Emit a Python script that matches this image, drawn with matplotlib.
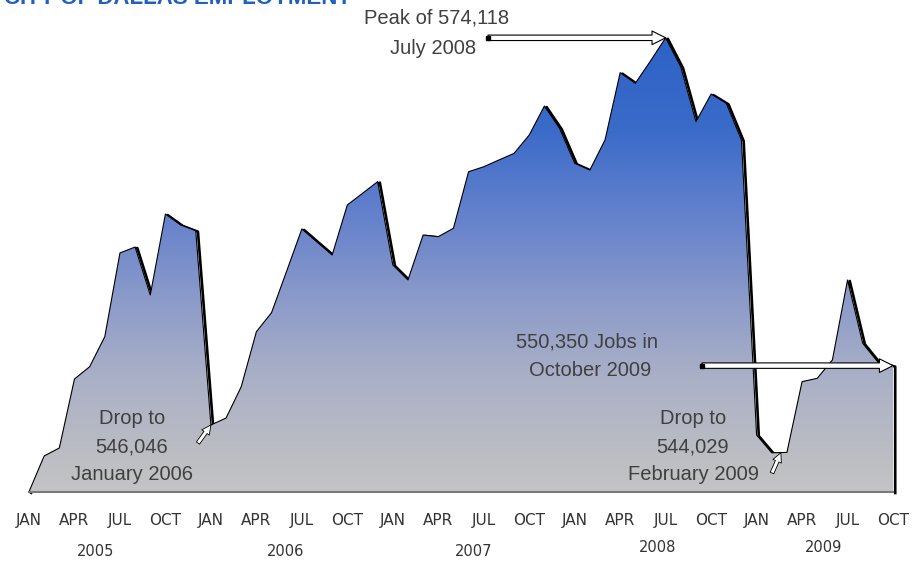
import numpy as np
import matplotlib
matplotlib.use("Agg")
import matplotlib.pyplot as plt
import matplotlib.transforms as mtransforms
from matplotlib.colors import LinearSegmentedColormap

# monthly employment, Jan 2005 - Oct 2009
jobs_2005 = [541210, 543800, 544380, 549380, 550270, 552450,
             558520, 558950, 555470, 561340, 560550, 560130]
jobs_2006 = [546046, 546550, 548820, 552810, 554190, 557210,
             560260, 559310, 558370, 562000, 562840, 563690]
jobs_2007 = [557650, 556560, 559820, 559700, 560310, 564410,
             564770, 565260, 565740, 567070, 569170, 567560]
jobs_2008 = [565020, 564530, 566710, 571590, 570820, 572440,
             574118, 572000, 568040, 570040, 569370, 566710]
jobs_2009 = [545320, 544029, 544060, 549190, 549430, 550760,
             556560, 551970, 550610, 550350]

month_labels = ["JAN", "APR", "JUL", "OCT"]
years = ["2005", "2006", "2007", "2008", "2009"]

jobs = np.array(jobs_2005 + jobs_2006 + jobs_2007 + jobs_2008 + jobs_2009)
months = np.arange(len(jobs))

W, H = 917, 561


def px(x, y):
    # reference pixel -> figure fraction
    return x / W, 1 - y / H


def month_at(x):
    # reference pixel column -> month index
    return (x - 29) / 15.158


fig = plt.figure(figsize=(W / 100, H / 100), dpi=100)
ax = fig.add_axes([20 / W, (H - 492) / H, 885 / W, 472 / H])
ymin, ymax = 541188, 575409
ax.set_xlim(-0.594, 57.79)
ax.set_ylim(ymin, ymax)

# shadow edge (offset down-right), then gradient fill, then thin outline
xs = np.append(months, months[-1])
ys = np.append(jobs, ymin)
shadow = mtransforms.offset_copy(ax.transData, fig=fig, x=2.2, y=-1.0, units="dots")
ax.plot(xs, ys, color="black", lw=1.9, transform=shadow, zorder=1, clip_on=False)

poly = ax.fill_between(months, jobs, ymin, facecolor="none", edgecolor="none", zorder=2)
grad_cmap = LinearSegmentedColormap.from_list("dallas", [
    (0.00, "#c4c4c6"), (0.07, "#bdbec3"), (0.24, "#aab0c6"),
    (0.41, "#8b9ac9"), (0.58, "#6682cc"), (0.77, "#3a6bc9"), (1.00, "#2a60c6")])
grad = np.linspace(0, 1, 256).reshape(-1, 1)
im = ax.imshow(grad, cmap=grad_cmap, aspect="auto", origin="lower",
               extent=[-0.594, 57.79, ymin, ymax], zorder=2)
im.set_clip_path(poly.get_paths()[0], transform=ax.transData)
ax.plot(months, jobs, color="black", lw=0.8, zorder=3)
ax.plot([0, months[-1]], [ymin, ymin], color="#7a7a7a", lw=1.5, zorder=3, clip_on=False)

for side in ax.spines.values():
    side.set_visible(False)
ax.set_yticks([])
ax.set_xticks(months[::3])
ax.set_xticklabels([month_labels[i % 4] for i in range(len(months[::3]))],
                   family=["Liberation Sans Narrow", "DejaVu Sans"], fontsize=11, color="#333333")
ax.tick_params(axis="x", length=0, pad=15)

year_pos = [(96, 552), (286, 552), (474, 552), (658, 548), (824, 548)]
for yr, (x, y) in zip(years, year_pos):
    fig.text(*px(x, y), yr, ha="center", va="center", fontsize=10.5, color="#333333",
             family=["Liberation Sans Narrow", "DejaVu Sans"])

# title, mostly cut off at the top edge
fig.text(0.004, 1 - 4 / H, "CITY OF DALLAS EMPLOYMENT", ha="left", va="baseline",
         fontsize=16, fontweight="bold", color="#2160c0", family="Liberation Sans")

txt = dict(ha="center", va="center", fontsize=14.5, color="#404040", family="Liberation Sans")
for s, x, y in [("Peak of 574,118", 437, 18), ("July 2008", 433, 48),
                ("550,350 Jobs in", 587, 342), ("October 2009", 590, 370),
                ("Drop to", 132, 418), ("546,046", 132, 447), ("January 2006", 132, 475),
                ("Drop to", 693, 418), ("544,029", 693, 447), ("February 2009", 693, 475)]:
    fig.text(*px(x, y), s, **txt)

big_arrow = dict(arrowstyle="simple,head_length=0.7,head_width=0.7,tail_width=0.28",
                 fc="white", ec="black", lw=0.8, shrinkA=0, shrinkB=0, mutation_scale=14)
small_arrow = dict(arrowstyle="simple,head_length=0.6,head_width=0.6,tail_width=0.25",
                   fc="white", ec="black", lw=0.6, shrinkA=0, shrinkB=0, mutation_scale=11)

i_peak = int(np.argmax(jobs))
tails = []
for i, x_tail in [(i_peak, 488), (len(jobs) - 1, 702)]:
    ax.annotate("", xy=(months[i], jobs[i]), xytext=(month_at(x_tail), jobs[i]),
                arrowprops=big_arrow, zorder=5, annotation_clip=False)
    ax.plot([month_at(x_tail)], [jobs[i]], "s", ms=3.5, color="black", zorder=6, clip_on=False)
ax.annotate("", xy=(12, jobs[12]), xytext=px(198, 443),
            textcoords="figure fraction", arrowprops=small_arrow, zorder=5)
ax.annotate("", xy=(49.6, jobs[49]), xytext=px(772, 473),
            textcoords="figure fraction", arrowprops=small_arrow, zorder=5)

fig.savefig("out.png", dpi=100)
